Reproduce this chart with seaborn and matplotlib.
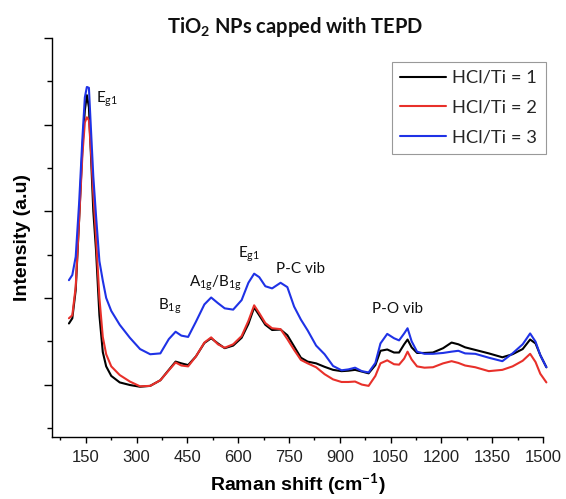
import matplotlib
matplotlib.use("Agg")
import numpy as np
import pandas as pd
import matplotlib.pyplot as plt
import seaborn as sns
from matplotlib.ticker import FixedLocator

# ---------------- data ----------------
raman_shift = [100, 110, 120, 130, 140, 147, 153, 159, 165, 172, 180, 190, 200, 210, 225,
               250, 280, 310, 340, 370, 395, 415, 432, 452, 475, 500, 520, 540, 560, 585,
               610, 630, 647, 662, 680, 700, 725, 745, 765, 785, 805, 830, 855, 880, 905,
               925, 945, 965, 985, 1005, 1020, 1040, 1060, 1075, 1090, 1100, 1112, 1128,
               1150, 1175, 1205, 1230, 1250, 1270, 1300, 1340, 1380, 1410, 1440, 1462,
               1478, 1492, 1510]

hcl_1 = [2.41, 2.53, 3.18, 4.79, 6.48, 7.33, 7.68, 7.40, 6.30, 5.00, 4.10, 2.60, 1.75, 1.42, 1.20,
         1.05, 0.99, 0.95, 0.97, 1.10, 1.34, 1.53, 1.49, 1.45, 1.65, 1.96, 2.07, 1.95, 1.84, 1.90,
         2.08, 2.40, 2.78, 2.60, 2.38, 2.26, 2.27, 2.14, 1.88, 1.62, 1.53, 1.49, 1.41, 1.34, 1.31,
         1.32, 1.34, 1.30, 1.26, 1.45, 1.78, 1.81, 1.74, 1.74, 1.93, 2.04, 1.86, 1.73,
         1.73, 1.74, 1.84, 1.97, 1.93, 1.86, 1.80, 1.72, 1.63, 1.70, 1.82, 2.04,
         1.95, 1.68, 1.40]

hcl_2 = [2.53, 2.60, 3.26, 4.79, 6.33, 7.05, 7.17, 7.10, 6.40, 5.40, 4.40, 3.00, 2.10, 1.70, 1.42,
         1.22, 1.07, 0.96, 0.97, 1.10, 1.33, 1.51, 1.44, 1.42, 1.65, 1.97, 2.09, 1.93, 1.85, 1.93,
         2.12, 2.47, 2.83, 2.65, 2.42, 2.30, 2.28, 2.05, 1.80, 1.57, 1.49, 1.40, 1.24, 1.12, 1.06,
         1.06, 1.07, 1.00, 0.97, 1.20, 1.49, 1.56, 1.47, 1.46, 1.60, 1.76, 1.58, 1.42,
         1.39, 1.40, 1.49, 1.54, 1.50, 1.44, 1.40, 1.31, 1.34, 1.42, 1.55, 1.71,
         1.52, 1.25, 1.05]

hcl_3 = [3.41, 3.53, 3.95, 5.18, 6.71, 7.63, 7.87, 7.85, 6.90, 5.80, 4.90, 3.85, 3.40, 3.00, 2.70,
         2.38, 2.08, 1.82, 1.70, 1.72, 2.05, 2.22, 2.13, 2.10, 2.45, 2.85, 3.01, 2.88, 2.76, 2.73,
         2.95, 3.35, 3.56, 3.48, 3.27, 3.22, 3.35, 3.25, 2.80, 2.50, 2.25, 1.90, 1.70, 1.43, 1.33,
         1.35, 1.39, 1.31, 1.28, 1.50, 1.95, 2.17, 2.07, 2.02, 2.18, 2.30, 2.00, 1.76,
         1.71, 1.71, 1.73, 1.76, 1.78, 1.72, 1.71, 1.62, 1.54, 1.72, 1.93, 2.18,
         1.99, 1.68, 1.40]

series_labels = ["HCl/Ti = 1", "HCl/Ti = 2", "HCl/Ti = 3"]
series_colors = ["#000000", "#e8302a", "#1f32e6"]

x_major = [150, 300, 450, 600, 750, 900, 1050, 1200, 1350, 1500]
x_minor = [75, 225, 375, 525, 675, 825, 975, 1125, 1275, 1425]
y_major = [1, 3, 5, 7, 9]
y_minor = [0, 2, 4, 6, 8]

peak_labels = [r"E$_{\mathrm{g1}}$", r"B$_{\mathrm{1g}}$", r"A$_{\mathrm{1g}}$/B$_{\mathrm{1g}}$",
               r"E$_{\mathrm{g1}}$", "P-C vib", "P-O vib"]
peak_x = [180, 362, 454, 598, 711, 996]
peak_y = [7.50, 2.72, 3.27, 3.94, 3.57, 2.65]

# ---------------- figure ----------------
sns.set_theme(style="white")
plt.rcParams["font.family"] = ["Lato", "DejaVu Sans"]
plt.rcParams["mathtext.fontset"] = "custom"
plt.rcParams["mathtext.rm"] = "Lato"
plt.rcParams["mathtext.it"] = "Lato:italic"
plt.rcParams["mathtext.bf"] = "Lato:bold"

df = pd.concat([
    pd.DataFrame({"shift": raman_shift, "intensity": vals, "series": lab})
    for vals, lab in zip([hcl_1, hcl_2, hcl_3], series_labels)
], ignore_index=True)

fig = plt.figure(figsize=(5.66, 4.99), dpi=100)
W, H = 566, 499
ax = fig.add_axes([52 / W, 1 - 437 / H, 491 / W, 399 / H])

sns.lineplot(data=df, x="shift", y="intensity", hue="series", hue_order=series_labels,
             palette=series_colors, linewidth=1.5, estimator=None, sort=False, ax=ax)
for ln in ax.get_lines():
    ln.set_clip_on(False)

ax.set_xlim(50, 1500)
ax.set_ylim(-0.21, 9)

for s in ["top", "right"]:
    ax.spines[s].set_visible(False)
for s in ["left", "bottom"]:
    ax.spines[s].set_color("black")
    ax.spines[s].set_linewidth(1.0)

ax.xaxis.set_major_locator(FixedLocator(x_major))
ax.xaxis.set_minor_locator(FixedLocator(x_minor))
ax.yaxis.set_major_locator(FixedLocator(y_major))
ax.yaxis.set_minor_locator(FixedLocator(y_minor))

ax.tick_params(axis="x", which="major", bottom=True, direction="out", length=4.3, width=1,
               color="black", pad=5, labelsize=12, labelcolor="#222222")
ax.tick_params(axis="x", which="minor", bottom=True, direction="out", length=2.3, width=1, color="black")
ax.tick_params(axis="y", which="major", left=True, direction="out", length=5.8, width=1,
               color="black", labelleft=False)
ax.tick_params(axis="y", which="minor", left=True, direction="out", length=3.5, width=1, color="black")
for lab in ax.get_xticklabels():
    lab.set_fontfamily("Liberation Sans")

ax.set_xlabel(r"Raman shift (cm$^{\mathbf{-1}}$)", fontsize=14, fontweight="bold",
              family="Liberation Sans", labelpad=5, color="black")
ax.set_ylabel("Intensity (a.u)", fontsize=14, fontweight="bold",
              family="Liberation Sans", labelpad=8, color="black")

for t, px, py in zip(peak_labels, peak_x, peak_y):
    ax.text(px, py, t, fontsize=11, ha="left", va="baseline", color="#111111")

fig.text(295 / W, 1 - 27 / H, r"TiO$_\mathbf{2}$ NPs capped with TEPD", ha="center",
         va="center", fontsize=14.5, fontweight="bold", color="#111111")

handles, labels = ax.get_legend_handles_labels()
ax.legend(handles, labels, loc="upper right", bbox_to_anchor=(1.0055, 0.9406),
          borderaxespad=0, frameon=True, fancybox=False, edgecolor="#999999",
          fontsize=13.2, handlelength=2.5, handletextpad=0.35, labelspacing=0.75,
          borderpad=0.45, framealpha=1)
ax.get_legend().get_frame().set_linewidth(0.8)

fig.savefig("out.png", dpi=100)
